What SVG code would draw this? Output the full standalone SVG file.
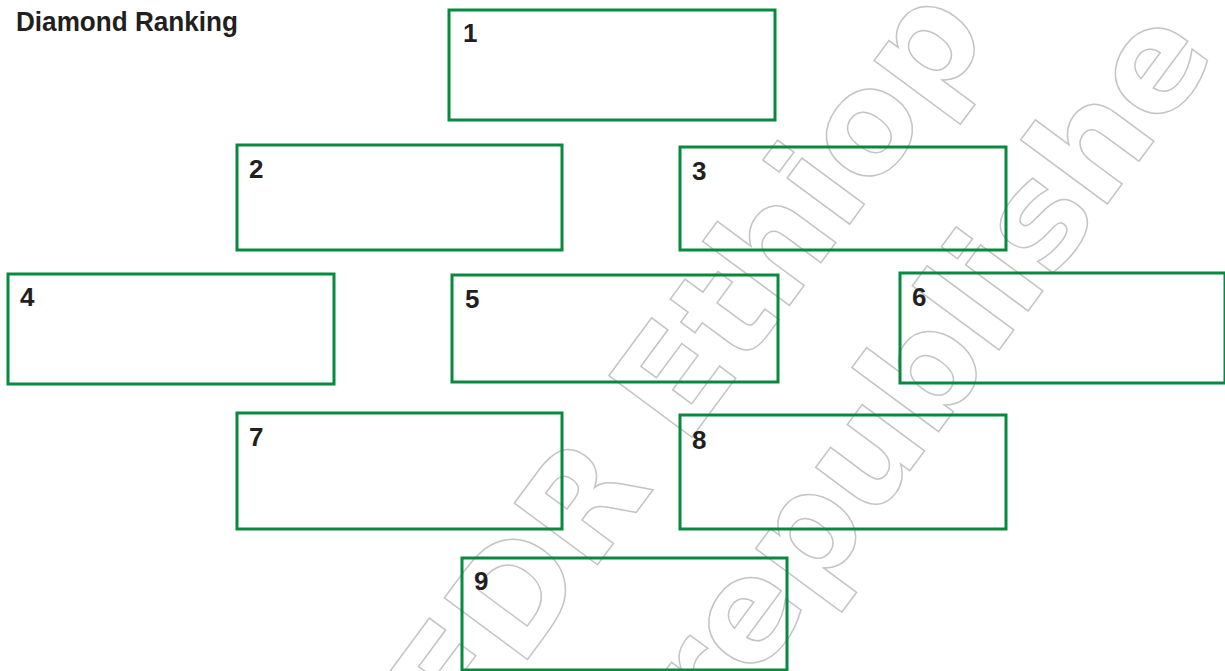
<svg xmlns="http://www.w3.org/2000/svg" width="1225" height="671" viewBox="0 0 1225 671">
<style>
.wm{font-family:"DejaVu Sans","Liberation Sans",sans-serif;font-weight:bold;font-size:142px;fill:none;stroke:#c4c4c4;stroke-width:1.5}
.box{fill:none;stroke:#078a3f;stroke-width:3}
.num{font-family:"Liberation Sans",Arial,sans-serif;font-weight:bold;font-size:26px;fill:#231f20}
.title{font-family:"Liberation Sans",Arial,sans-serif;font-weight:bold;font-size:28px;fill:#231f20}
</style>
<rect width="1225" height="671" fill="#ffffff"/>
<g id="watermark">
<text class="wm" transform="translate(462,748) rotate(-53.5)">FDR Ethiop</text>
<text class="wm" transform="translate(712,738) rotate(-53.5)">republishe</text>
</g>
<text id="title" class="title" x="16" y="31" textLength="222" lengthAdjust="spacingAndGlyphs">Diamond Ranking</text>
<g id="connectors"></g>
<g id="node1"><rect class="box" x="449" y="10" width="326" height="110"/><text class="num" x="463" y="42">1</text></g>
<g id="node2"><rect class="box" x="237" y="145" width="325" height="105"/><text class="num" x="249" y="178">2</text></g>
<g id="node3"><rect class="box" x="680" y="147" width="326" height="103"/><text class="num" x="692" y="180">3</text></g>
<g id="node4"><rect class="box" x="8" y="274" width="326" height="110"/><text class="num" x="20" y="306">4</text></g>
<g id="node5"><rect class="box" x="452" y="275" width="326" height="107"/><text class="num" x="465" y="308">5</text></g>
<g id="node6"><rect class="box" x="900" y="273" width="325" height="110"/><text class="num" x="912" y="306">6</text></g>
<g id="node7"><rect class="box" x="237" y="413" width="325" height="116"/><text class="num" x="249" y="446">7</text></g>
<g id="node8"><rect class="box" x="680" y="415" width="326" height="114"/><text class="num" x="692" y="449">8</text></g>
<g id="node9"><rect class="box" x="462" y="558" width="325" height="112"/><text class="num" x="474" y="590">9</text></g>
</svg>
